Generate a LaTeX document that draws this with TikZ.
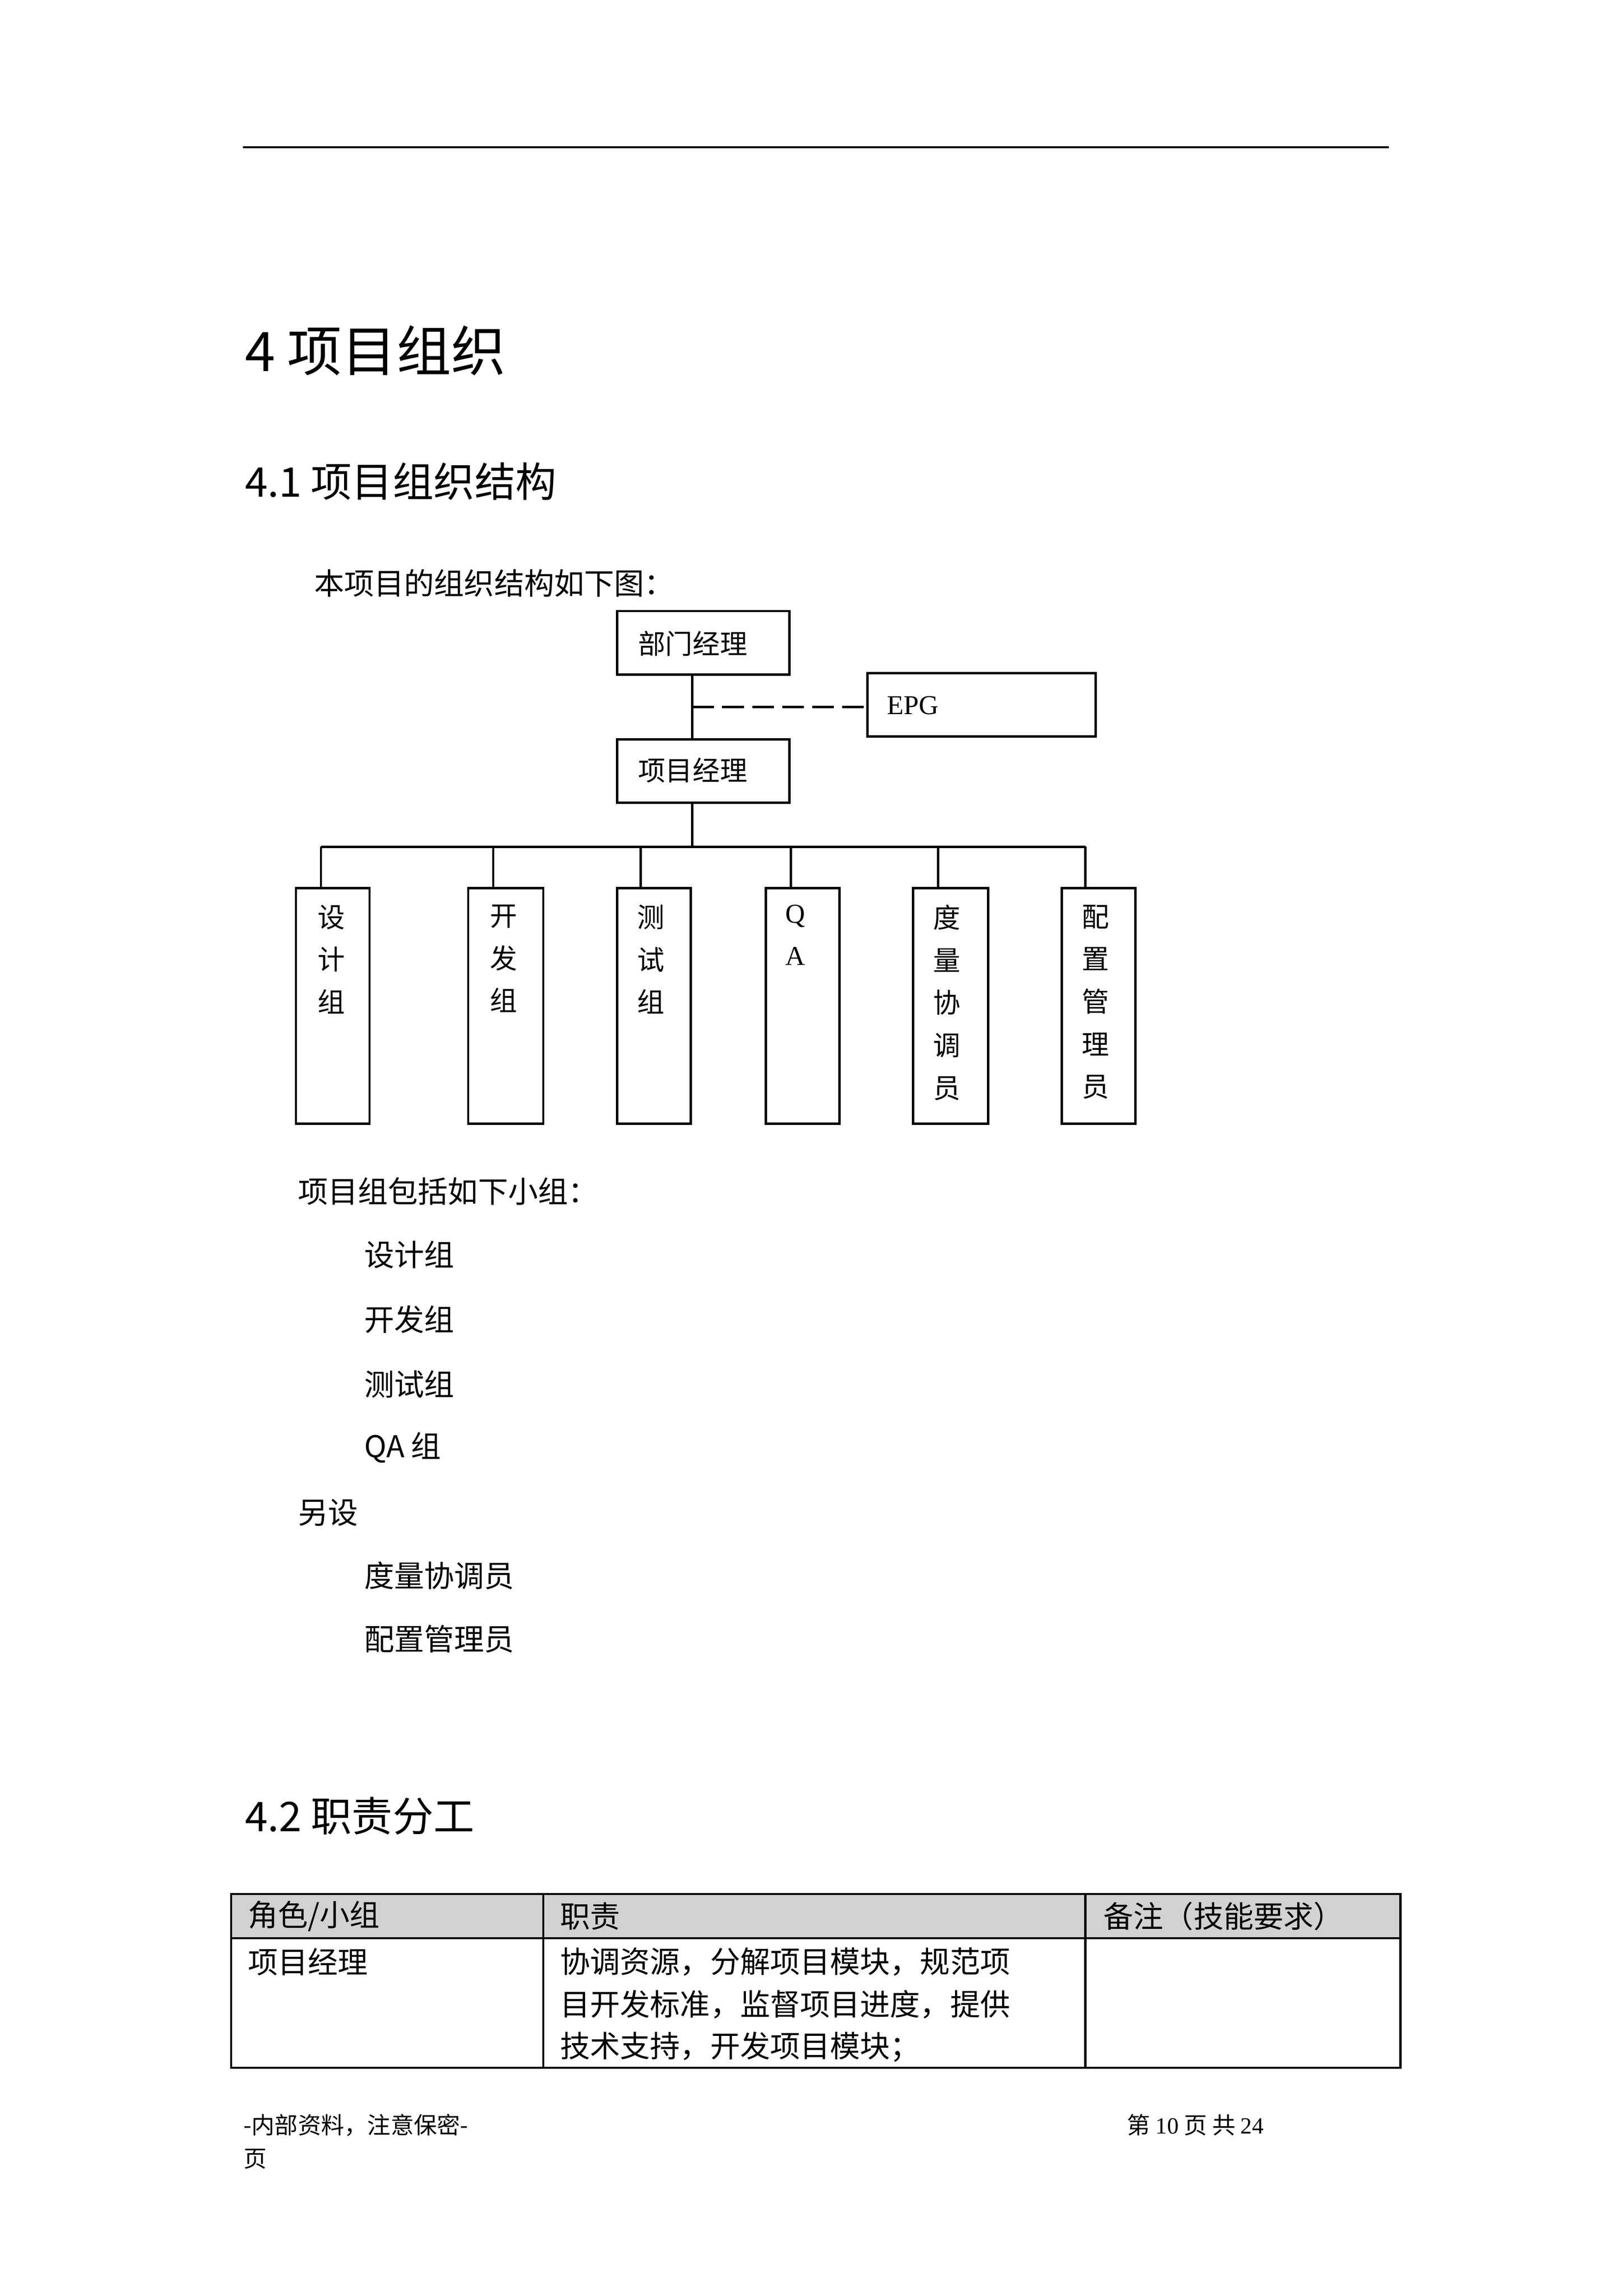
\documentclass[tikz,border=0pt]{standalone}
\usepackage{fontspec}
\setmainfont{Liberation Serif}
\newfontfamily\cjk{Noto Sans CJK SC}
\begin{document}
\begin{tikzpicture}[x=0.54pt,y=-0.54pt,
  bx/.style={draw,line width=0.8pt},
  ln/.style={line width=0.8pt},
  t/.style={anchor=west,inner sep=0pt,font=\cjk\fontsize{10}{12}\selectfont},
  body/.style={anchor=west,inner sep=0pt,font=\cjk\fontsize{11}{13}\selectfont},
  vt/.style={anchor=north,inner sep=0pt,align=center,font=\cjk\fontsize{10}{15.6}\selectfont}]
\useasboundingbox[fill=white] (0,0) rectangle (1102,1559);
\draw[ln] (165,100) -- (943,100);
\node[anchor=west,inner sep=0pt,font=\cjk\fontsize{20}{24}\selectfont] (h1) at (166,238) {4 项目组织};
\node[anchor=west,inner sep=0pt,font=\cjk\fontsize{15}{18}\selectfont] (h2) at (166,327) {4.1 项目组织结构};
\node[body] (p1) at (213,396) {本项目的组织结构如下图：};
% org chart
\draw[bx] (419,415) rectangle (536,458);
\node[t] (bm) at (433,437) {部门经理};
\draw[bx] (589,457) rectangle (744,500);
\node[anchor=west,inner sep=0pt,font=\fontsize{10}{12}\selectfont] (epg) at (602,479) {EPG};
\draw[bx] (419,502) rectangle (536,545);
\node[t] (pm) at (433,523) {项目经理};
\draw[ln] (470,458) -- (470,502);
\draw[ln,dash pattern=on 8pt off 3pt] (470,480) -- (589,480);
\draw[ln] (470,545) -- (470,575);
\draw[ln] (218,575) -- (737,575);
\foreach \lx/\a/\b/\tx/\txt in {218/201/251/225/设\\计\\组, 335/318/369/342/开\\发\\组, 435/419/469/442/测\\试\\组, 537/520/570/540/{\rmfamily Q}\\{\rmfamily A}, 637/620/671/643/度\\量\\协\\调\\员, 737/721/771/744/配\\置\\管\\理\\员}{
  \draw[ln] (\lx,575) -- (\lx,603);
  \draw[bx] (\a,603) rectangle (\b,763);
  \node[vt] at (\tx,614) {\txt};
}
\node[body] (p2) at (202,809) {项目组包括如下小组：};
\node[body] (l1) at (247,852) {设计组};
\node[body] (l2) at (247,896) {开发组};
\node[body] (l3) at (247,940) {测试组};
\node[body] (l4) at (247,983) {QA 组};
\node[body] (p3) at (202,1027) {另设};
\node[body] (l5) at (247,1070) {度量协调员};
\node[body] (l6) at (247,1113) {配置管理员};
\node[anchor=west,inner sep=0pt,font=\cjk\fontsize{15}{18}\selectfont] (h3) at (166,1233) {4.2 职责分工};
% table
\fill[gray!35] (157,1286) rectangle (951,1316);
\draw[bx] (157,1286) rectangle (951,1404);
\draw[ln] (157,1316) -- (951,1316);
\draw[ln] (369,1286) -- (369,1404);
\draw[ln] (737,1286) -- (737,1404);
\node[body] at (168,1301) {角色/小组};
\node[body] at (380,1301) {职责};
\node[body] at (749,1301) {备注（技能要求）};
\node[body] at (168,1332) {项目经理};
\node[body] at (380,1332) {协调资源，分解项目模块，规范项};
\node[body] at (380,1361) {目开发标准，监督项目进度，提供};
\node[body] at (380,1390) {技术支持，开发项目模块；};
% footer
\node[anchor=west,inner sep=0pt,font=\cjk\fontsize{8.5}{10}\selectfont] at (165,1443) {-内部资料，注意保密-};
\node[anchor=west,inner sep=0pt,font=\cjk\fontsize{8.5}{10}\selectfont] at (165,1466) {页};
\node[anchor=west,inner sep=0pt,font=\cjk\fontsize{8.5}{10}\selectfont] at (765,1443) {第 {\rmfamily 10} 页 共 {\rmfamily 24}};
\end{tikzpicture}
\end{document}
